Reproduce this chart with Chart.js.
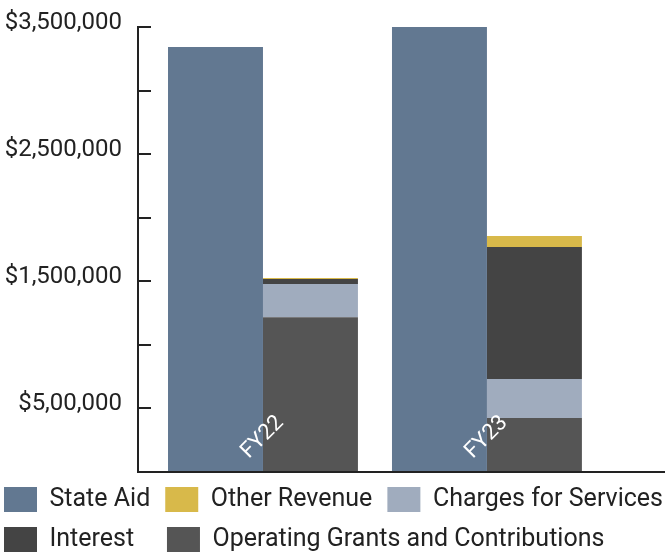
<!DOCTYPE html>
<html>
<head>
<meta charset="utf-8">
<script src="https://cdn.jsdelivr.net/npm/chart.js@4.4.0/dist/chart.umd.min.js"></script>
<style>
  body { margin: 0; background: #fff; }
  #wrap { width: 665px; height: 556px; }
</style>
</head>
<body>
<div id="wrap"><canvas id="revenueChart"></canvas></div>
<script>
// Revenue by source, FY22 vs FY23
const years = ['FY22', 'FY23'];
const stateAid = [3343000, 3553000];
const operatingGrants = [1218000, 424000];
const chargesForServices = [260000, 307000];
const interest = [39000, 1038000];
const otherRevenue = [8000, 87000];

// labels shown on every other tick (0, 500k, 1M ... 3.5M)
const yTickLabels = ['', '$5,00,000', '', '$1,500,000', '', '$2,500,000', '', '$3,500,000'];
const legendOrder = ['State Aid', 'Other Revenue', 'Charges for Services', 'Interest', 'Operating Grants and Contributions'];

const toPoints = values => values.map((v, i) => ({ x: i, y: v }));
const ctx = document.getElementById('revenueChart').getContext('2d');

new Chart(ctx, {
  type: 'bar',
  data: {
    datasets: [
      { label: 'State Aid', data: toPoints(stateAid), stack: 'aid', backgroundColor: '#627891' },
      { label: 'Operating Grants and Contributions', data: toPoints(operatingGrants), stack: 'other', backgroundColor: '#555555' },
      { label: 'Charges for Services', data: toPoints(chargesForServices), stack: 'other', backgroundColor: '#a0acbe' },
      { label: 'Interest', data: toPoints(interest), stack: 'other', backgroundColor: '#444444' },
      { label: 'Other Revenue', data: toPoints(otherRevenue), stack: 'other', backgroundColor: '#d8b94a' }
    ]
  },
  options: {
    responsive: true,
    maintainAspectRatio: false,
    animation: false,
    categoryPercentage: 0.848,
    barPercentage: 1,
    borderWidth: 0,
    layout: {
      padding: { top: 27, left: -11, right: -16, bottom: -6 }
    },
    plugins: {
      tooltip: { enabled: false },
      legend: {
        position: 'bottom',
        align: 'start',
        labels: {
          boxWidth: 33,
          boxHeight: 25,
          padding: 15,
          color: '#222',
          font: { family: 'Roboto', size: 25 },
          // widen 'Interest' so the second row lines up with the first row's columns
          generateLabels: chart => Chart.defaults.plugins.legend.labels.generateLabels(chart)
            .map(item => item.text === 'Interest' ? { ...item, text: item.text + '\u2002\u2009' } : item),
          sort: (a, b) => legendOrder.indexOf(a.text.trim()) - legendOrder.indexOf(b.text.trim())
        }
      }
    },
    scales: {
      x: {
        type: 'linear',
        stacked: true,
        offset: false,
        min: -0.558,
        max: 1.795,
        afterBuildTicks: scale => {
          scale.ticks = years.map((y, i) => ({ value: i }));
        },
        afterFit: scale => {
          scale.height = 0;
          scale.paddingLeft = 0;
          scale.paddingRight = 0;
        },
        grid: { display: false },
        border: { display: true, color: '#222', width: 2 },
        ticks: {
          z: 1,
          mirror: true,
          autoSkip: false,
          minRotation: 45,
          maxRotation: 45,
          padding: 43,
          labelOffset: 36,
          color: '#fff',
          font: { family: 'Roboto', size: 22 },
          callback: (value, index) => years[index]
        }
      },
      y: {
        stacked: true,
        min: 0,
        max: 3500000,
        afterFit: scale => {
          scale.width = 149;
          scale.paddingTop = 0;
          scale.paddingBottom = 0;
        },
        grid: {
          drawOnChartArea: false,
          tickLength: -13,
          lineWidth: 2,
          color: '#222'
        },
        border: { display: true, color: '#222', width: 2 },
        ticks: {
          stepSize: 500000,
          padding: 29,
          labelOffset: -4,
          color: '#222',
          font: { family: 'Roboto', size: 24 },
          callback: value => yTickLabels[Math.round(value / 500000)]
        }
      }
    }
  }
});
</script>
</body>
</html>
